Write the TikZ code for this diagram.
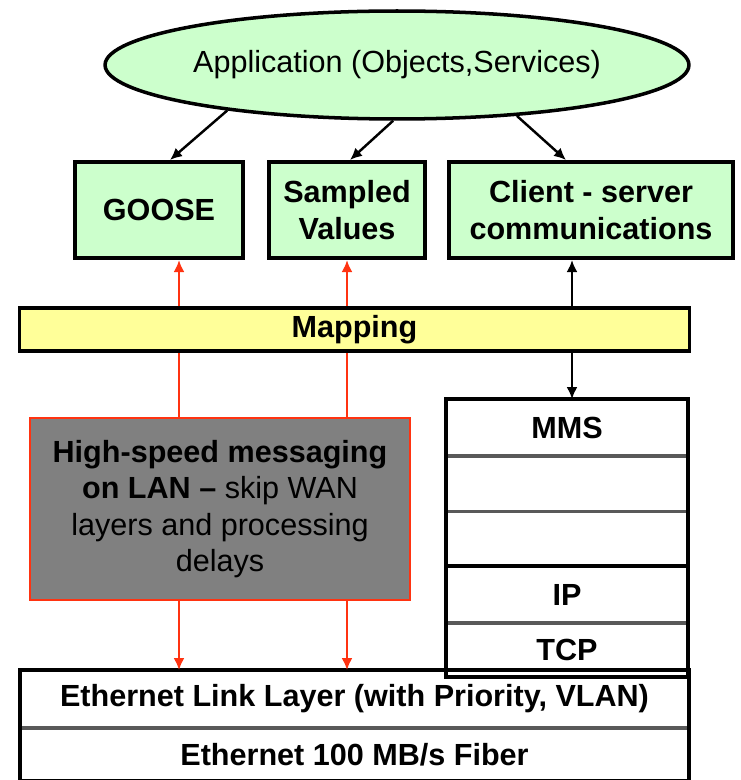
\documentclass[tikz,border=0pt]{standalone}
\usepackage{fontspec}
\setmainfont{Liberation Sans}
\usetikzlibrary{shapes.geometric,arrows.meta,calc,positioning}
\definecolor{appgreen}{HTML}{CCFFCC}
\definecolor{mapyellow}{HTML}{FFFF99}
\definecolor{lanred}{HTML}{FF3311}
\definecolor{langray}{HTML}{808080}
\begin{document}
\begin{tikzpicture}[x=0.02cm, y=-0.02cm,
  every node/.style={font=\fontsize{17.4}{20.8}\selectfont\bfseries, inner sep=0pt},
  box/.style={draw, line width=2.3pt, fill=appgreen, minimum height=1.92cm, align=center},
  layer/.style={draw=black!65, line width=1pt, minimum width=4.8cm, align=center},
  arr/.style={-{Latex[length=2.4mm,width=2.2mm]}, line width=1.4pt},
  redarr/.style={arr, lanred}]
\useasboundingbox (0,0) rectangle (740,780);
% top: application and the three services
\node[ellipse, draw, line width=2pt, fill=appgreen, minimum width=11.68cm, minimum height=2.16cm,
  font=\fontsize{17.4}{20.8}\selectfont] (app) at (397,65) {Application (Objects,Services)};
\node[box, minimum width=3.36cm] (goose) at (159,210) {GOOSE};
\node[box, minimum width=3.12cm] (sv) at (347,210) {Sampled\\Values};
\node[box, minimum width=5.68cm] (cs) at (591,210) {Client - server\\communications};
\node[draw, line width=2pt, fill=mapyellow, minimum width=13.4cm, minimum height=0.86cm] (map) at (354.5,329.5) {Mapping};
% fast path
\node[draw=lanred, line width=1.2pt, fill=langray, minimum width=7.6cm, minimum height=3.64cm, align=center] (hs) at (220,509)
  {High-speed messaging\\on LAN – {\mdseries skip WAN}\\{\mdseries layers and processing}\\{\mdseries delays}};
% MMS stack
\node[layer, minimum height=1.1cm] (mms) at (567,427.5) {MMS};
\node[layer, minimum height=1.08cm, below=0pt of mms] (mms2) {};
\node[layer, minimum height=1.06cm, below=0pt of mms2] (mms3) {};
\node[layer, minimum height=1.1cm, below=0pt of mms3] (ip) {IP};
\node[layer, minimum height=1.04cm, below=0pt of ip] (tcp) {TCP};
\draw[line width=2.3pt] (mms.north west) rectangle (mms3.south east);
\draw[line width=2.3pt] (ip.north west) rectangle (tcp.south east);
% ethernet
\node[layer, minimum width=13.34cm, minimum height=1.12cm] (link) at (354.5,699) {Ethernet Link Layer (with Priority, VLAN)};
\node[layer, minimum width=13.34cm, minimum height=1.02cm, below=0pt of link] (fiber) {Ethernet 100 MB/s Fiber};
\draw[line width=2pt] (link.north west) rectangle (fiber.south east);
% connectors
\draw[arr] (app.195) -- ($(goose.north)+(11,0)$);
\draw[arr] (app.266) -- ($(sv.north)+(3,0)$);
\draw[arr] (app.337) -- ($(cs.north)+(-25,0)$);
\coordinate (g1) at (179,0);
\coordinate (s1) at (347,0);
\coordinate (c1) at (572,0);
\foreach \col in {g1,s1} {
  \draw[redarr] (map.north -| \col) -- (goose.south -| \col);
  \draw[lanred, line width=1.4pt] (hs.north -| \col) -- (map.south -| \col);
  \draw[redarr] (hs.south -| \col) -- (link.north -| \col);
}
\draw[arr] (map.north -| c1) -- (cs.south -| c1);
\draw[arr] (map.south -| c1) -- (mms.north -| c1);
\end{tikzpicture}
\end{document}
